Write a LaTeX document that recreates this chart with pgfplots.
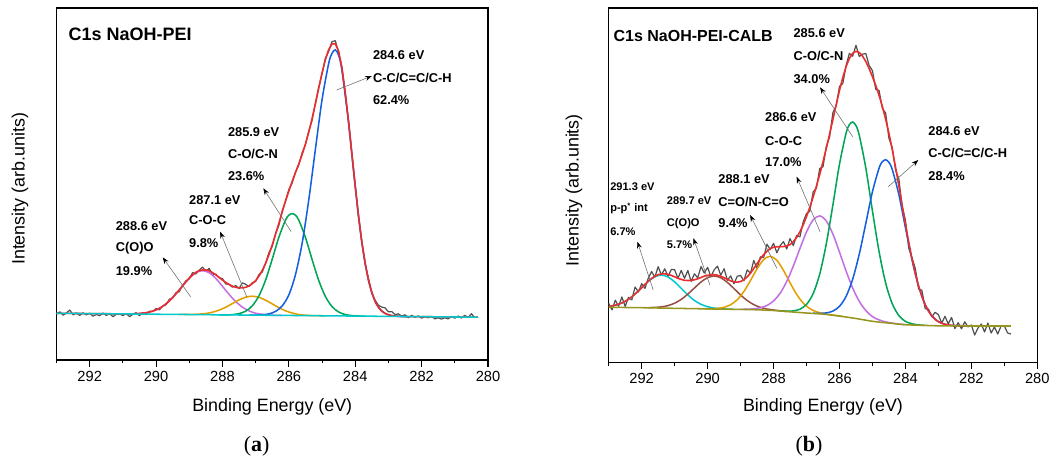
\documentclass[border=0pt]{standalone}
\usepackage{fontspec}
\setmainfont{Liberation Sans}
\newfontfamily\capfont{Liberation Serif}
\usepackage{pgfplots}
\pgfplotsset{compat=1.18}
\usetikzlibrary{arrows.meta}
\definecolor{cBlue}{RGB}{20,95,225}
\definecolor{cGreen}{RGB}{0,165,85}
\definecolor{cOrange}{RGB}{225,160,0}
\definecolor{cPurple}{RGB}{195,110,225}
\definecolor{cCyan}{RGB}{0,200,205}
\definecolor{cRed}{RGB}{235,45,45}
\definecolor{cRaw}{RGB}{80,80,80}
\definecolor{cBrown}{RGB}{150,80,70}
\definecolor{cOlive}{RGB}{150,150,30}
\newcommand{\annfont}{\fontsize{9.6}{11}\selectfont\bfseries}
\newcommand{\smallann}{\fontsize{8.3}{10}\selectfont\bfseries}
\newcommand{\arr}[4]{\draw[line width=0.45pt, color=black!55, -{Stealth[length=5pt,width=3.6pt,black]}] (axis cs:#1,#2) -- (axis cs:#3,#4);}
\pgfplotsset{xpsaxis/.style={
  scale only axis, xmin=280, xmax=293, x dir=reverse, ymin=0, clip=false,
  axis line style={line width=0.9pt},
  xtick={280,282,...,292}, minor xtick={281,283,...,293},
  xtick pos=left, ytick=\empty,
  tick align=outside, major tick length=4.9pt, minor tick length=2.5pt,
  every tick/.append style={black, line width=0.8pt},
  xticklabel style={font=\fontsize{11}{13}\selectfont},
  /pgf/number format/assume math mode=true,
  label style={font=\fontsize{13.4}{16}\selectfont},
  comp/.style={line width=1.15pt, smooth},
  raw/.style={line width=0.9pt, color=cRaw, line join=round},
  env/.style={line width=1.2pt, color=cRed, line join=round},
}}
\begin{document}
\begin{tikzpicture}
\useasboundingbox (0pt,0pt) rectangle (796.5pt,345.75pt);
% ---------------- panel (a)
\begin{axis}[xpsaxis, at={(42.375pt,75.75pt)}, anchor=south west,
  width=323.625pt, height=264pt, ymax=352,
  xlabel={Binding Energy (eV)}, ylabel={Intensity (arb.units)},
  xlabel style={at={(axis description cs:0.5,-0.1335)}, anchor=center},
  ylabel style={at={(axis description cs:-0.0847,0.486)}, anchor=center}]
\addplot[raw] coordinates {(293.0,46.0)(292.9,48.1)(292.8,44.9)(292.7,47.0)(292.6,50.0)(292.5,45.2)(292.4,47.1)(292.3,44.5)(292.2,47.2)(292.1,45.1)(292.0,46.8)(291.9,43.8)(291.8,45.5)(291.7,44.3)(291.6,46.9)(291.5,44.6)(291.4,46.4)(291.3,43.3)(291.2,45.7)(291.1,46.1)(291.0,44.4)(290.9,46.5)(290.8,43.4)(290.7,45.6)(290.6,47.3)(290.5,44.2)(290.4,47.5)(290.3,45.3)(290.2,48.7)(290.1,48.6)(290.0,51.5)(289.9,50.1)(289.8,53.9)(289.7,55.2)(289.6,60.8)(289.5,61.9)(289.4,67.4)(289.3,68.3)(289.2,74.8)(289.1,79.2)(289.0,81.2)(288.9,87.4)(288.8,86.0)(288.7,89.8)(288.6,92.9)(288.5,88.7)(288.4,91.6)(288.3,85.4)(288.2,85.9)(288.1,82.3)(288.0,81.3)(287.9,76.0)(287.8,75.7)(287.7,72.8)(287.6,74.4)(287.5,71.5)(287.4,77.2)(287.3,75.7)(287.2,73.5)(287.1,77.3)(287.0,78.6)(286.9,85.5)(286.8,88.0)(286.7,97.0)(286.6,107.3)(286.5,113.7)(286.4,126.4)(286.3,134.7)(286.2,149.0)(286.1,158.8)(286.0,170.4)(285.9,177.0)(285.8,187.8)(285.7,195.1)(285.6,207.1)(285.5,215.3)(285.4,229.0)(285.3,239.6)(285.2,256.8)(285.1,272.8)(285.0,286.2)(284.9,301.8)(284.8,308.6)(284.7,318.4)(284.6,319.3)(284.5,307.4)(284.4,292.6)(284.3,265.6)(284.2,238.7)(284.1,205.6)(284.0,175.1)(283.9,142.3)(283.8,117.9)(283.7,95.5)(283.6,81.4)(283.5,66.7)(283.4,59.8)(283.3,54.7)(283.2,52.9)(283.1,52.1)(283.0,48.2)(282.9,48.4)(282.8,45.4)(282.7,46.2)(282.6,43.9)(282.5,45.2)(282.4,42.4)(282.3,44.6)(282.2,42.7)(282.1,44.1)(282.0,41.8)(281.9,43.5)(281.8,42.2)(281.7,43.7)(281.6,41.2)(281.5,42.1)(281.4,40.9)(281.3,42.3)(281.2,41.1)(281.1,43.6)(281.0,41.8)(280.9,44.0)(280.8,41.9)(280.7,44.7)(280.6,42.4)(280.5,46.3)(280.4,42.3)};
\addplot[comp, cPurple] coordinates {(291.0,46.0)(290.8,46.1)(290.6,46.3)(290.4,46.9)(290.2,47.9)(290.0,50.1)(289.8,53.7)(289.6,59.1)(289.4,66.2)(289.2,74.2)(289.0,81.8)(288.8,87.4)(288.6,89.3)(288.4,87.3)(288.2,81.6)(288.0,73.7)(287.8,65.6)(287.6,58.4)(287.4,52.9)(287.2,49.1)(287.0,46.8)(286.8,45.7)(286.6,45.0)(286.4,44.7)(286.2,44.5)};
\addplot[comp, cOrange] coordinates {(289.3,45.5)(289.1,45.6)(288.9,45.6)(288.7,45.9)(288.5,46.5)(288.3,47.8)(288.1,49.9)(287.9,52.8)(287.7,56.4)(287.5,60.1)(287.3,62.8)(287.1,63.8)(286.9,62.7)(286.7,59.8)(286.5,56.1)(286.3,52.3)(286.1,49.2)(285.9,47.0)(285.7,45.5)(285.5,44.8)(285.3,44.4)(285.1,44.3)(284.9,44.1)};
\addplot[comp, cGreen] coordinates {(288.1,45.2)(287.9,45.1)(287.7,45.4)(287.5,46.4)(287.3,48.8)(287.1,54.2)(286.9,64.2)(286.7,80.0)(286.5,100.9)(286.3,122.8)(286.1,140.0)(286.0,144.8)(285.9,146.4)(285.8,144.8)(285.7,139.8)(285.5,122.6)(285.3,100.5)(285.1,79.6)(284.9,63.6)(284.7,53.5)(284.5,48.0)(284.3,45.5)(284.1,44.4)(283.9,44.0)(283.7,43.8)};
\addplot[comp, cBlue] coordinates {(287.2,44.8)(287.0,44.8)(286.8,45.2)(286.6,46.1)(286.4,48.6)(286.2,54.1)(286.0,65.1)(285.8,85.4)(285.6,116.7)(285.4,160.0)(285.2,210.7)(285.0,260.2)(284.8,296.5)(284.7,306.6)(284.6,310.1)(284.5,304.7)(284.4,289.5)(284.2,237.0)(284.0,173.4)(283.8,117.7)(283.6,79.7)(283.4,58.6)(283.2,48.9)(283.0,45.2)(282.8,43.9)(282.6,43.6)(282.4,43.4)};
\addplot[env] coordinates {(293.0,46.7)(292.0,46.4)(291.0,46.1)(290.8,46.1)(290.7,46.2)(290.6,46.3)(290.5,46.5)(290.4,46.9)(290.3,47.3)(290.2,47.9)(290.1,48.9)(290.0,50.1)(289.9,51.6)(289.8,53.7)(289.7,56.2)(289.6,59.1)(289.5,62.5)(289.4,66.2)(289.3,70.1)(289.2,74.2)(289.1,78.2)(289.0,81.9)(288.9,85.2)(288.8,87.7)(288.7,89.4)(288.6,90.1)(288.5,90.0)(288.4,89.1)(288.3,87.4)(288.2,85.1)(288.1,82.6)(288.0,79.9)(287.9,77.5)(287.8,75.5)(287.7,73.8)(287.6,72.7)(287.5,72.1)(287.4,72.2)(287.3,72.7)(287.2,74.0)(287.1,76.3)(287.0,79.3)(286.9,84.0)(286.8,89.7)(286.7,96.6)(286.6,105.3)(286.5,115.0)(286.4,125.8)(286.3,136.7)(286.2,148.2)(286.1,159.1)(286.0,169.0)(285.9,178.5)(285.8,187.6)(285.7,196.1)(285.6,205.4)(285.5,215.9)(285.4,227.8)(285.3,241.4)(285.2,256.2)(285.1,271.8)(285.0,286.9)(284.9,300.3)(284.8,310.3)(284.7,316.0)(284.6,316.3)(284.5,308.7)(284.4,292.0)(284.3,267.6)(284.2,237.9)(284.1,205.9)(284.0,173.7)(283.9,143.8)(283.8,117.7)(283.7,96.5)(283.6,79.7)(283.5,67.3)(283.4,58.6)(283.3,52.7)(283.2,48.9)(283.1,46.6)(283.0,45.2)(282.9,44.4)(282.8,43.9)(282.7,43.7)(282.6,43.5)(282.5,43.4)(282.0,43.3)(281.0,43.0)(280.3,42.8)};
\addplot[line width=1.15pt, cCyan] coordinates {(293.0,46.7)(280.3,42.8)};
% annotations (a)
\node[anchor=west, inner sep=0pt, font=\fontsize{13.5}{16}\selectfont\bfseries] at (axis cs:292.64,325.5) {C1s NaOH-PEI};
\node[anchor=west, inner sep=0pt, font=\annfont] at (axis cs:283.47,305) {284.6 eV};
\node[anchor=west, inner sep=0pt, font=\annfont] at (axis cs:283.47,282) {C-C/C=C/C-H};
\node[anchor=west, inner sep=0pt, font=\annfont] at (axis cs:283.47,260) {62.4\%};
\arr{284.56}{270}{283.50}{284}
\node[anchor=west, inner sep=0pt, font=\annfont] at (axis cs:287.84,228.3) {285.9 eV};
\node[anchor=west, inner sep=0pt, font=\annfont] at (axis cs:287.84,206) {C-O/C-N};
\node[anchor=west, inner sep=0pt, font=\annfont] at (axis cs:287.84,184) {23.6\%};
\arr{285.93}{128.3}{286.77}{171.7}
\node[anchor=west, inner sep=0pt, font=\annfont] at (axis cs:289.01,160) {287.1 eV};
\node[anchor=west, inner sep=0pt, font=\annfont] at (axis cs:289.01,140) {C-O-C};
\node[anchor=west, inner sep=0pt, font=\annfont] at (axis cs:289.01,117.3) {9.8\%};
\arr{287.27}{63.3}{288.07}{128.3}
\node[anchor=west, inner sep=0pt, font=\annfont] at (axis cs:291.22,134) {288.6 eV};
\node[anchor=west, inner sep=0pt, font=\annfont] at (axis cs:291.22,111.7) {C(O)O};
\node[anchor=west, inner sep=0pt, font=\annfont] at (axis cs:291.22,89) {19.9\%};
\arr{288.96}{63.3}{289.80}{102.7}
\end{axis}
% ---------------- panel (b)
\begin{axis}[xpsaxis, at={(456.525pt,74.025pt)}, anchor=south west,
  width=321.45pt, height=265.725pt, ymax=354.3,
  xlabel={Binding Energy (eV)}, ylabel={Intensity (arb.units)},
  xlabel style={at={(axis description cs:0.5,-0.126)}, anchor=center},
  ylabel style={at={(axis description cs:-0.081,0.486)}, anchor=center}]
\addplot[raw] coordinates {(293.0,58.9)(292.9,52.4)(292.8,62.1)(292.7,56.1)(292.6,65.3)(292.5,55.9)(292.4,65.0)(292.3,62.4)(292.2,75.3)(292.1,70.3)(292.0,78.6)(291.9,73.9)(291.8,84.1)(291.7,90.8)(291.6,85.1)(291.5,95.6)(291.4,87.4)(291.3,93.5)(291.2,85.9)(291.1,92.9)(291.0,92.5)(290.9,84.0)(290.8,91.9)(290.7,84.0)(290.6,91.8)(290.5,80.9)(290.4,88.5)(290.3,84.5)(290.2,95.8)(290.1,89.2)(290.0,95.0)(289.9,85.5)(289.8,92.6)(289.7,96.1)(289.6,87.0)(289.5,93.6)(289.4,82.0)(289.3,86.4)(289.2,78.5)(289.1,86.1)(289.0,86.8)(288.9,81.5)(288.8,92.4)(288.7,89.1)(288.6,101.8)(288.5,93.6)(288.4,105.5)(288.3,104.7)(288.2,118.1)(288.1,112.7)(288.0,119.0)(287.9,109.5)(287.8,116.6)(287.7,120.7)(287.6,113.3)(287.5,123.7)(287.4,116.7)(287.3,126.9)(287.2,125.5)(287.1,140.5)(287.0,148.8)(286.9,151.0)(286.8,170.3)(286.7,174.1)(286.6,193.8)(286.5,195.5)(286.4,215.9)(286.3,225.2)(286.2,249.7)(286.1,256.6)(286.0,275.9)(285.9,278.8)(285.8,296.7)(285.7,308.9)(285.6,306.1)(285.5,317.0)(285.4,305.8)(285.3,308.2)(285.2,308.7)(285.1,296.7)(285.0,291.6)(284.9,272.9)(284.8,271.9)(284.7,253.9)(284.6,249.2)(284.5,223.9)(284.4,214.8)(284.3,192.2)(284.2,183.5)(284.1,156.1)(284.0,142.0)(283.9,114.2)(283.8,104.5)(283.7,93.7)(283.6,73.2)(283.5,71.9)(283.4,53.5)(283.3,53.2)(283.2,45.5)(283.1,50.0)(283.0,47.6)(282.9,39.1)(282.8,46.0)(282.7,38.4)(282.6,44.9)(282.5,33.7)(282.4,39.6)(282.3,33.5)(282.2,40.5)(282.1,35.4)(282.0,37.3)(281.9,27.3)(281.8,34.3)(281.7,38.3)(281.6,30.3)(281.5,39.3)(281.4,29.3)(281.3,35.3)(281.2,28.3)(281.1,36.3)(281.0,36.3)(280.9,29.3)(280.8,28.3)};
\addplot[comp, cCyan] coordinates {(293.0,55.9)(292.8,57.1)(292.6,59.3)(292.4,63.0)(292.2,68.3)(292.0,74.6)(291.8,80.9)(291.6,85.6)(291.4,87.2)(291.2,85.3)(291.0,80.4)(290.8,73.9)(290.6,67.4)(290.4,61.8)(290.2,58.0)(290.0,55.6)(289.8,54.2)(289.6,53.6)(289.4,53.2)(289.2,53.0)};
\addplot[comp, cBrown] coordinates {(291.8,54.7)(291.6,54.9)(291.4,55.4)(291.2,56.7)(291.0,59.1)(290.8,62.9)(290.6,68.2)(290.4,74.3)(290.2,80.3)(290.0,84.7)(289.8,86.3)(289.6,84.5)(289.4,79.9)(289.2,73.7)(289.0,67.3)(288.8,61.8)(288.6,57.7)(288.4,55.0)(288.2,53.3)(288.0,52.3)(287.8,51.5)(287.6,50.8)};
\addplot[comp, cOrange] coordinates {(290.1,53.6)(289.9,53.5)(289.7,53.9)(289.5,55.0)(289.3,57.6)(289.1,62.6)(288.9,70.8)(288.7,81.8)(288.5,93.5)(288.3,102.7)(288.1,106.0)(287.9,102.0)(287.7,92.0)(287.5,79.6)(287.3,68.0)(287.1,59.2)(286.9,53.7)(286.7,50.5)(286.5,48.9)(286.3,47.7)(286.1,46.8)(285.9,45.8)};
\addplot[comp, cPurple] coordinates {(289.0,53.0)(288.8,53.1)(288.6,53.5)(288.4,54.6)(288.2,56.8)(288.0,61.4)(287.8,69.1)(287.6,80.8)(287.4,96.3)(287.2,113.8)(287.0,130.4)(286.8,142.4)(286.6,146.4)(286.4,141.4)(286.2,128.2)(286.0,110.2)(285.8,91.3)(285.6,74.3)(285.4,61.0)(285.2,51.7)(285.0,45.7)(284.8,42.4)(284.6,40.4)(284.4,39.2)(284.2,38.3)(284.0,37.6)};
\addplot[comp, cGreen] coordinates {(287.8,51.4)(287.6,51.1)(287.4,51.4)(287.2,53.1)(287.0,57.9)(286.8,68.6)(286.6,88.2)(286.4,118.5)(286.2,157.4)(286.0,198.1)(285.8,229.1)(285.7,237.7)(285.6,240.3)(285.5,236.7)(285.4,227.0)(285.2,194.0)(285.0,151.3)(284.8,110.8)(284.6,79.3)(284.4,58.6)(284.2,46.8)(284.0,40.9)(283.8,38.5)(283.6,37.4)(283.4,36.9)};
\addplot[comp, cBlue] coordinates {(286.8,49.1)(286.6,48.9)(286.4,49.4)(286.2,51.2)(286.0,56.0)(285.8,65.9)(285.6,83.1)(285.4,108.2)(285.2,139.2)(285.0,170.6)(284.8,194.1)(284.7,200.6)(284.6,202.5)(284.5,199.9)(284.4,192.8)(284.2,167.8)(284.0,134.7)(283.8,102.4)(283.6,75.9)(283.4,57.5)(283.2,46.5)(283.0,40.6)(282.8,38.0)(282.6,36.9)(282.4,36.6)(282.2,36.4)(281.0,36.3)(280.8,36.3)};
\addplot[env] coordinates {(293.0,55.9)(292.9,56.4)(292.8,57.1)(292.7,58.1)(292.6,59.3)(292.5,60.9)(292.4,63.0)(292.3,65.4)(292.2,68.3)(292.1,71.3)(292.0,74.6)(291.9,77.9)(291.8,81.1)(291.7,83.8)(291.6,86.1)(291.5,87.6)(291.4,88.4)(291.3,88.5)(291.2,87.9)(291.1,86.9)(291.0,85.5)(290.9,84.0)(290.8,82.9)(290.7,82.0)(290.6,81.8)(290.5,81.9)(290.4,82.5)(290.3,83.5)(290.2,84.8)(290.1,86.2)(290.0,87.0)(289.9,87.5)(289.8,87.6)(289.7,87.1)(289.6,86.0)(289.5,84.6)(289.4,83.0)(289.3,81.4)(289.2,80.5)(289.1,80.1)(289.0,80.8)(288.9,82.5)(288.8,85.4)(288.7,89.1)(288.6,93.8)(288.5,98.6)(288.4,103.5)(288.3,107.7)(288.2,111.1)(288.1,113.7)(288.0,115.0)(287.9,115.5)(287.8,115.6)(287.7,115.7)(287.6,116.3)(287.5,117.7)(287.4,120.7)(287.3,124.9)(287.2,130.5)(287.1,137.5)(287.0,145.8)(286.9,155.0)(286.8,165.3)(286.7,176.1)(286.6,187.8)(286.5,200.5)(286.4,213.9)(286.3,228.2)(286.2,242.7)(286.1,257.6)(286.0,271.9)(285.9,284.8)(285.8,295.7)(285.7,303.9)(285.6,309.1)(285.5,311.0)(285.4,309.8)(285.3,306.2)(285.2,300.7)(285.1,293.7)(285.0,285.6)(284.9,276.9)(284.8,266.9)(284.7,255.9)(284.6,243.2)(284.5,228.9)(284.4,212.8)(284.3,195.2)(284.2,176.5)(284.1,157.1)(284.0,138.0)(283.9,120.2)(283.8,103.5)(283.7,88.7)(283.6,76.2)(283.5,65.9)(283.4,57.5)(283.3,51.2)(283.2,46.5)(283.1,43.0)(283.0,40.6)(282.9,39.1)(282.8,38.0)(282.7,37.4)(282.6,36.9)(282.5,36.7)(282.4,36.6)(282.0,36.3)(280.8,36.3)};
\addplot[line width=1.15pt, cOlive, smooth] coordinates {(293.0,55.0)(292.0,54.6)(291.0,54.0)(290.0,53.4)(289.0,52.9)(288.5,52.5)(288.0,51.8)(287.5,50.5)(287.0,49.3)(286.5,48.2)(286.0,46.2)(285.5,43.8)(285.0,41.0)(284.5,39.2)(284.0,37.6)(283.5,37.0)(283.0,36.5)(282.0,36.3)(280.8,36.3)};
% annotations (b)
\node[anchor=west, inner sep=0pt, font=\fontsize{12}{14}\selectfont\bfseries] at (axis cs:292.86,326.6) {C1s NaOH-PEI-CALB};
\node[anchor=west, inner sep=0pt, font=\annfont] at (axis cs:287.40,329) {285.6 eV};
\node[anchor=west, inner sep=0pt, font=\annfont] at (axis cs:287.40,306.3) {C-O/C-N};
\node[anchor=west, inner sep=0pt, font=\annfont] at (axis cs:287.40,283.3) {34.0\%};
\arr{285.60}{225.6}{286.59}{275}
\node[anchor=west, inner sep=0pt, font=\annfont] at (axis cs:288.26,244.8) {286.6 eV};
\node[anchor=west, inner sep=0pt, font=\annfont] at (axis cs:288.26,221.5) {C-O-C};
\node[anchor=west, inner sep=0pt, font=\annfont] at (axis cs:288.26,199.8) {17.0\%};
\arr{286.59}{130.6}{287.30}{185.6}
\node[anchor=west, inner sep=0pt, font=\annfont] at (axis cs:283.31,231.5) {284.6 eV};
\node[anchor=west, inner sep=0pt, font=\annfont] at (axis cs:283.31,209) {C-C/C=C/C-H};
\node[anchor=west, inner sep=0pt, font=\annfont] at (axis cs:283.31,186.5) {28.4\%};
\arr{284.52}{175.6}{283.61}{202.3}
\node[anchor=west, inner sep=0pt, font=\annfont] at (axis cs:289.68,183.3) {288.1 eV};
\node[anchor=west, inner sep=0pt, font=\annfont] at (axis cs:289.68,160.6) {C=O/N-C=O};
\node[anchor=west, inner sep=0pt, font=\annfont] at (axis cs:289.68,139) {9.4\%};
\arr{287.90}{94}{288.71}{147.3}
\node[anchor=west, inner sep=0pt, font=\smallann] at (axis cs:291.24,161.3) {289.7 eV};
\node[anchor=west, inner sep=0pt, font=\smallann] at (axis cs:291.24,139) {C(O)O};
\node[anchor=west, inner sep=0pt, font=\smallann] at (axis cs:291.24,117.3) {5.7\%};
\arr{289.93}{77.3}{290.43}{124}
\node[anchor=west, inner sep=0pt, font=\smallann] at (axis cs:292.96,175.6) {291.3 eV};
\node[anchor=west, inner sep=0pt, font=\smallann] at (axis cs:292.96,153.8) {p-p\textsuperscript{*} int};
\node[anchor=west, inner sep=0pt, font=\smallann] at (axis cs:292.96,130.6) {6.7\%};
\arr{291.65}{72.3}{292.13}{120.6}
\end{axis}
% captions
\node[font=\capfont\fontsize{16.5}{19}\selectfont] at (192.5pt,10.9pt) {(\textbf{a})};
\node[font=\capfont\fontsize{16.5}{19}\selectfont] at (606.75pt,10.9pt) {(\textbf{b})};
\end{tikzpicture}
\end{document}
